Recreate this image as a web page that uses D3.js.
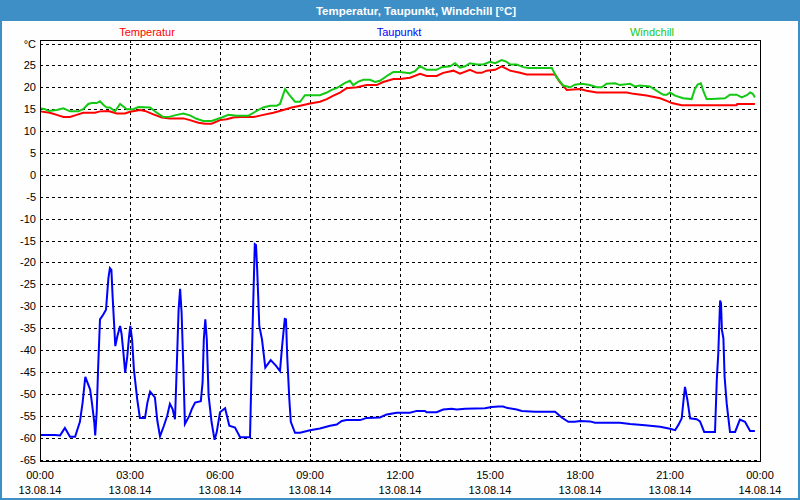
<!DOCTYPE html>
<html>
<head>
<meta charset="utf-8">
<script src="https://cdn.jsdelivr.net/npm/d3@7"></script>
<style>
  html, body { margin: 0; padding: 0; background: #ffffff; }
  svg { display: block; }
  text { font-family: "Liberation Sans", Arial, sans-serif; }
</style>
</head>
<body>
<svg id="chart" width="800" height="500"></svg>
<script>
// ---------------- data ----------------
const titleText = "Temperatur, Taupunkt, Windchill [°C]";
const seriesNames = ["Temperatur", "Taupunkt", "Windchill"];
const seriesColors = ["#ff0000", "#0000ff", "#14c814"];

const xTickHours = [0, 3, 6, 9, 12, 15, 18, 21, 24];
const xTickTimes = ["00:00", "03:00", "06:00", "09:00", "12:00", "15:00", "18:00", "21:00", "00:00"];
const xTickDates = ["13.08.14", "13.08.14", "13.08.14", "13.08.14", "13.08.14", "13.08.14", "13.08.14", "13.08.14", "14.08.14"];
const yTicks = [-65, -60, -55, -50, -45, -40, -35, -30, -25, -20, -15, -10, -5, 0, 5, 10, 15, 20, 25, 30];
const yUnitLabel = "°C";

// Temperatur (hour of day, value)
const tempHours = [0, 0.33, 0.56, 0.78, 1.0, 1.22, 1.44, 1.83, 2.0, 2.28, 2.56, 2.83, 3.0, 3.33, 3.5, 3.78, 4.06, 4.33, 4.78, 5.0, 5.28, 5.5, 5.72, 6.0, 6.22, 6.44, 6.67, 7.11, 7.44, 7.78, 8.11, 8.39, 8.67, 9.0, 9.33, 9.56, 9.78, 10.0, 10.22, 10.56, 10.89, 11.22, 11.44, 11.78, 12.0, 12.33, 12.67, 12.89, 13.22, 13.44, 13.78, 14.0, 14.33, 14.56, 14.72, 14.89, 15.17, 15.39, 15.67, 16.0, 16.22, 17.17, 17.33, 17.56, 18.0, 18.22, 18.56, 19.56, 19.78, 20.22, 20.67, 20.89, 21.06, 21.39, 23.22, 23.24, 23.83];
const tempValues = [14.5, 14.2, 13.7, 13.2, 13.2, 13.7, 14.2, 14.2, 14.5, 14.6, 14.0, 14.0, 14.4, 14.8, 14.6, 13.8, 13.1, 12.9, 12.9, 12.5, 11.9, 11.7, 11.7, 12.5, 12.7, 13.1, 13.2, 13.2, 13.7, 14.2, 14.8, 15.4, 15.8, 16.3, 16.7, 17.3, 18.1, 18.8, 19.8, 20.0, 20.5, 20.5, 21.2, 21.9, 21.9, 22.2, 23.1, 22.6, 22.6, 23.3, 23.8, 23.1, 24.0, 23.3, 23.3, 23.8, 24.0, 24.8, 23.8, 23.3, 22.9, 22.9, 21.2, 19.4, 19.6, 19.2, 18.8, 18.8, 18.5, 18.1, 17.5, 16.9, 16.4, 15.9, 15.9, 16.2, 16.2];

// Taupunkt
const dewHours = [0, 0.5, 0.67, 0.83, 1.0, 1.17, 1.33, 1.42, 1.51, 1.58, 1.67, 1.73, 1.81, 1.84, 1.89, 1.94, 2.0, 2.11, 2.2, 2.28, 2.33, 2.38, 2.42, 2.48, 2.51, 2.58, 2.67, 2.72, 2.78, 2.84, 2.91, 2.97, 3.01, 3.07, 3.13, 3.24, 3.33, 3.5, 3.58, 3.67, 3.83, 3.91, 4.0, 4.13, 4.24, 4.33, 4.42, 4.5, 4.56, 4.62, 4.67, 4.72, 4.78, 4.83, 4.98, 5.06, 5.17, 5.36, 5.42, 5.46, 5.51, 5.56, 5.62, 5.72, 5.82, 5.89, 6.0, 6.17, 6.31, 6.5, 6.67, 7.0, 7.03, 7.09, 7.16, 7.2, 7.24, 7.31, 7.4, 7.51, 7.69, 7.87, 8.0, 8.07, 8.16, 8.2, 8.24, 8.31, 8.36, 8.5, 8.67, 9.0, 9.33, 9.67, 9.89, 10.06, 10.22, 10.67, 10.89, 11.33, 11.56, 11.89, 12.33, 12.56, 12.83, 12.89, 13.22, 13.44, 13.72, 13.89, 14.17, 14.83, 15.06, 15.28, 15.44, 15.56, 15.89, 16.06, 16.5, 17.17, 17.39, 17.61, 17.83, 18.0, 18.33, 18.5, 19.33, 19.67, 20.17, 20.67, 21.0, 21.17, 21.28, 21.39, 21.44, 21.5, 21.58, 21.67, 21.89, 22.0, 22.14, 22.5, 22.56, 22.61, 22.67, 22.7, 22.73, 22.78, 22.82, 22.89, 22.94, 23.0, 23.17, 23.33, 23.5, 23.67, 23.83];
const dewValues = [-59.4, -59.4, -59.5, -57.8, -59.8, -59.8, -56.4, -52.0, -46.1, -47.4, -49.0, -52.0, -56.5, -59.5, -54.2, -43.6, -33.0, -31.9, -30.8, -23.6, -21.3, -21.7, -27.7, -35.3, -39.1, -36.8, -34.5, -36.4, -40.6, -45.2, -41.4, -36.8, -34.5, -37.6, -44.4, -51.2, -55.5, -55.5, -52.0, -49.5, -50.8, -56.1, -59.7, -57.3, -55.0, -52.3, -53.5, -55.8, -43.6, -30.8, -26.0, -31.5, -44.4, -56.9, -55.0, -53.5, -52.0, -51.7, -47.4, -37.6, -33.0, -37.6, -50.4, -56.5, -60.5, -58.8, -54.2, -53.3, -57.3, -57.7, -59.9, -59.9, -51.2, -33.8, -15.8, -16.0, -21.7, -34.5, -37.6, -44.0, -42.3, -43.6, -44.8, -39.1, -32.9, -33.0, -41.4, -51.2, -56.4, -58.9, -58.9, -58.3, -57.9, -57.3, -57.0, -56.2, -56.0, -56.0, -55.5, -55.4, -54.7, -54.3, -54.3, -53.9, -53.9, -54.2, -54.2, -53.6, -53.4, -53.6, -53.4, -53.3, -53.0, -52.9, -52.9, -53.2, -53.6, -53.9, -54.1, -54.1, -55.4, -56.4, -56.4, -56.2, -56.3, -56.6, -56.6, -56.9, -57.2, -57.5, -58.0, -58.3, -57.1, -55.6, -52.2, -48.4, -51.4, -55.6, -55.8, -56.3, -58.7, -58.7, -46.8, -40.7, -28.7, -29.3, -35.4, -37.3, -46.1, -52.2, -55.2, -58.7, -58.7, -55.9, -56.4, -58.5, -58.5];

// Windchill
const chillHours = [0, 0.17, 0.28, 0.56, 0.78, 1.0, 1.28, 1.44, 1.61, 1.72, 1.89, 2.0, 2.11, 2.22, 2.33, 2.5, 2.67, 2.78, 2.89, 3.11, 3.28, 3.67, 3.89, 4.11, 4.33, 4.56, 4.78, 5.0, 5.22, 5.44, 5.72, 6.06, 6.28, 6.56, 6.94, 7.22, 7.44, 7.67, 7.89, 8.0, 8.17, 8.33, 8.5, 8.67, 8.83, 9.33, 9.56, 9.72, 9.89, 10.17, 10.33, 10.44, 10.61, 10.78, 11.0, 11.17, 11.33, 11.61, 11.78, 12.0, 12.33, 12.5, 12.67, 12.89, 13.22, 13.39, 13.67, 13.83, 14.0, 14.17, 14.33, 14.56, 14.78, 15.0, 15.17, 15.39, 15.56, 15.67, 15.89, 16.11, 16.28, 17.06, 17.22, 17.44, 17.67, 17.83, 18.06, 18.33, 18.56, 18.72, 18.89, 19.17, 19.33, 19.67, 19.83, 20.0, 20.33, 20.56, 20.78, 20.89, 21.0, 21.17, 21.44, 21.72, 21.83, 21.92, 22.03, 22.11, 22.22, 22.39, 22.83, 23.0, 23.22, 23.39, 23.56, 23.67, 23.76, 23.83];
const chillValues = [15.2, 15.0, 14.6, 14.8, 15.2, 14.5, 14.5, 15.0, 16.2, 16.4, 16.4, 16.8, 16.0, 15.4, 15.4, 14.5, 16.2, 15.6, 15.0, 15.0, 15.5, 15.4, 14.2, 13.2, 13.3, 13.7, 14.0, 13.6, 12.8, 12.3, 12.3, 13.1, 13.7, 13.5, 13.5, 14.6, 15.4, 15.8, 15.8, 16.2, 19.6, 18.1, 16.7, 16.7, 18.2, 18.2, 18.8, 19.4, 19.8, 21.0, 21.5, 20.5, 21.3, 21.7, 21.7, 21.2, 21.5, 22.8, 23.5, 23.5, 23.2, 23.7, 24.8, 24.0, 24.0, 24.6, 24.8, 25.5, 24.5, 24.8, 25.5, 25.2, 25.2, 25.8, 25.5, 26.2, 25.8, 25.2, 25.2, 24.6, 24.4, 24.4, 22.3, 20.4, 20.0, 20.6, 20.8, 20.5, 20.0, 20.0, 20.8, 20.9, 20.5, 20.8, 20.2, 20.4, 20.2, 19.2, 18.3, 18.3, 18.8, 18.1, 17.5, 17.3, 19.6, 20.6, 20.9, 19.2, 17.3, 17.3, 17.5, 18.3, 18.3, 17.7, 18.2, 18.8, 18.5, 17.7];

// ---------------- drawing ----------------
const svg = d3.select("#chart");
const W = 800, H = 500;
const plot = { left: 40, right: 760, top: 40, bottom: 461 };

// window background & frame
svg.append("rect").attr("x", 0).attr("y", 0).attr("width", W).attr("height", H).attr("fill", "#3d8fc6");
svg.append("rect").attr("x", 2).attr("y", 21).attr("width", W - 4).attr("height", H - 23).attr("fill", "#fdfefd");

svg.append("text")
  .attr("x", 416).attr("y", 15)
  .attr("text-anchor", "middle")
  .attr("fill", "#ffffff")
  .attr("font-weight", "bold")
  .attr("font-size", "11.5px")
  .text(titleText);

const x = d3.scaleLinear().domain([0, 24]).range([plot.left, plot.right]);
const y = d3.scaleLinear().domain([-65, 30]).range([459.5, 43.5]);

// grid
const grid = svg.append("g").attr("shape-rendering", "crispEdges");
grid.selectAll("line.h").data(yTicks).enter().append("line")
  .attr("x1", plot.left).attr("x2", plot.right)
  .attr("y1", d => Math.round(y(d)) + 0.5).attr("y2", d => Math.round(y(d)) + 0.5)
  .attr("stroke", "#000").attr("stroke-dasharray", "3,3");
grid.selectAll("line.v").data(xTickHours.slice(1, -1)).enter().append("line")
  .attr("x1", d => Math.round(x(d)) + 0.5).attr("x2", d => Math.round(x(d)) + 0.5)
  .attr("y1", plot.top).attr("y2", plot.bottom)
  .attr("stroke", "#000").attr("stroke-dasharray", "3,3");

// series lines
const lineGen = d3.line().x(d => x(d[0])).y(d => y(d[1]));
const seriesData = [
  d3.zip(tempHours, tempValues),
  d3.zip(dewHours, dewValues),
  d3.zip(chillHours, chillValues)
];
const lineOrder = [1, 0, 2];
lineOrder.forEach(i => {
  svg.append("path")
    .datum(seriesData[i])
    .attr("d", lineGen)
    .attr("fill", "none")
    .attr("stroke", seriesColors[i])
    .attr("stroke-width", 2)
    .attr("stroke-linejoin", "miter");
});

// plot frame
svg.append("rect")
  .attr("x", plot.left + 0.5).attr("y", plot.top + 0.5)
  .attr("width", plot.right - plot.left).attr("height", plot.bottom - plot.top)
  .attr("fill", "none").attr("stroke", "#000").attr("shape-rendering", "crispEdges");

// x axis with hourly minor ticks
const xAxis = d3.axisTop(x).ticks(24).tickSize(3).tickFormat("");
const xg = svg.append("g").attr("transform", `translate(0,${plot.bottom + 0.5})`).call(xAxis);
xg.select(".domain").remove();
xg.selectAll("line").attr("stroke", "#000").attr("shape-rendering", "crispEdges");

svg.selectAll("text.xt").data(xTickHours).enter().append("text")
  .attr("x", d => x(d)).attr("y", 479)
  .attr("text-anchor", "middle").attr("font-size", "11px").attr("fill", "#000")
  .text((d, i) => xTickTimes[i]);
svg.selectAll("text.xd").data(xTickHours).enter().append("text")
  .attr("x", d => x(d)).attr("y", 494)
  .attr("text-anchor", "middle").attr("font-size", "11px").attr("fill", "#000")
  .text((d, i) => xTickDates[i]);

// y labels
svg.selectAll("text.yl").data(yTicks).enter().append("text")
  .attr("x", 36).attr("y", d => y(d) + 4)
  .attr("text-anchor", "end").attr("font-size", "11px").attr("fill", "#000")
  .text(d => d === 30 ? yUnitLabel : String(d));

// legend
const legendX = [147, 399, 652];
svg.selectAll("text.lg").data(seriesNames).enter().append("text")
  .attr("x", (d, i) => legendX[i]).attr("y", 36)
  .attr("text-anchor", "middle").attr("font-size", "11px")
  .attr("fill", (d, i) => seriesColors[i])
  .text(d => d);
</script>
</body>
</html>
